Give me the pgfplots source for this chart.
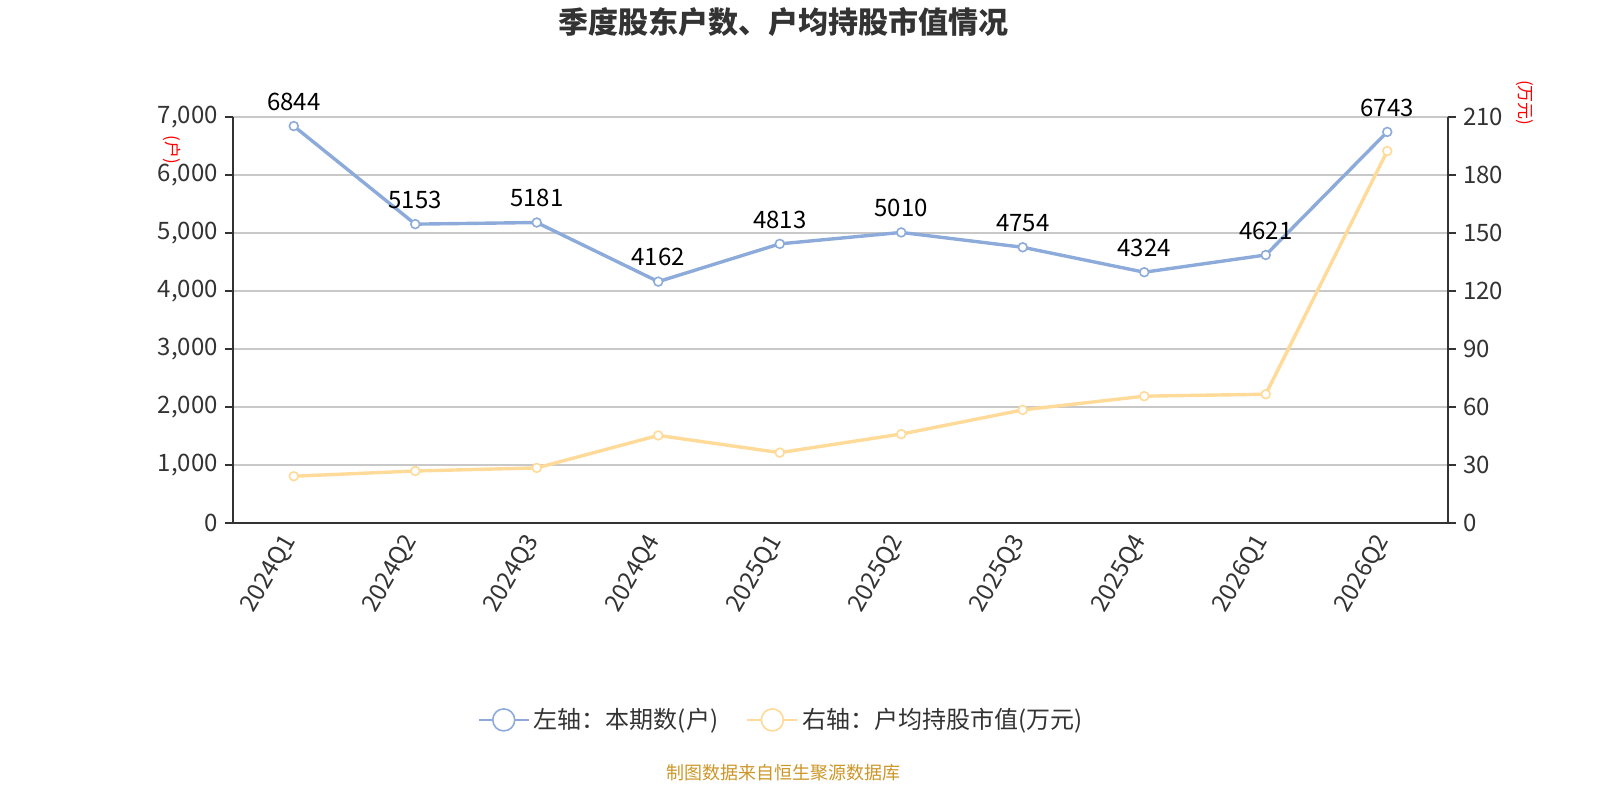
\documentclass[border=0pt]{standalone}
\usepackage{pgfplots}
\pgfplotsset{compat=1.18}
\usepackage{fontspec}
\setmainfont{Noto Sans CJK SC}
\definecolor{blueL}{RGB}{141,171,218}
\definecolor{yellowL}{RGB}{255,218,152}
\definecolor{axisC}{RGB}{51,51,51}
\definecolor{gridC}{RGB}{200,200,200}
\definecolor{footC}{RGB}{204,150,40}
\pgfplotsset{
  common/.style={
    scale only axis, width=607.5pt, height=203pt,
    at={(116.5pt,138.5pt)}, anchor=south west,
    xmin=-0.5, xmax=9.5,
    tick align=outside, major tick length=4pt,
    tick style={axisC, line width=0.8pt},
    axis line style={axisC, line width=0.8pt},
    tick label style={font=\fontsize{12}{14}\selectfont, text=axisC},
    /pgf/number format/assume math mode=true,
    /pgf/number format/1000 sep={,},
    clip=false,
  }
}
\begin{document}
\begin{tikzpicture}
\useasboundingbox (0,0) rectangle (800pt,400pt);
\begin{axis}[common,
  axis y line*=left, axis x line*=bottom,
  ymin=0, ymax=7000, ytick={0,1000,...,7000},
  ymajorgrids, grid style={gridC, line width=0.6pt},
  xtick={0,...,9},
  xticklabels={2024Q1,2024Q2,2024Q3,2024Q4,2025Q1,2025Q2,2025Q3,2025Q4,2026Q1,2026Q2},
  x tick style={draw=none},
  xticklabel style={rotate=60, anchor=east},
  extra x ticks={-0.5,0.5,...,9.5},
  extra x tick labels={},
  extra x tick style={tick style={axisC, line width=0.8pt, draw=axisC}, major tick length=6pt, grid=none},
  legend style={at={(0.452,-0.485)}, anchor=center, draw=none, legend columns=2,
    font=\fontsize{12}{14}\selectfont, text=axisC,
    /tikz/every even column/.append style={column sep=12pt}},
  legend cell align=left,
]
\addlegendimage{legend image code/.code={\draw[blueL, line width=1.2pt] (0pt,0pt) -- (25pt,0pt); \draw[blueL, fill=white, line width=0.8pt] (12.5pt,0pt) circle (5.5pt);}}
\addlegendentry{左轴：本期数(户)}
\addlegendimage{legend image code/.code={\draw[yellowL, line width=1.2pt] (0pt,0pt) -- (25pt,0pt); \draw[yellowL, fill=white, line width=0.8pt] (12.5pt,0pt) circle (5.5pt);}}
\addlegendentry{右轴：户均持股市值(万元)}
\addplot[forget plot, blueL, line width=1.7pt, mark=*, mark size=2.2pt,
  mark options={fill=white, draw=blueL, line width=0.8pt},
  nodes near coords, every node near coord/.append style={font=\fontsize{12}{14}\selectfont, text=black, anchor=south, yshift=4pt},
  nodes near coords={\pgfmathprintnumber[1000 sep={}]{\pgfplotspointmeta}}]
coordinates {(0,6844)(1,5153)(2,5181)(3,4162)(4,4813)(5,5010)(6,4754)(7,4324)(8,4621)(9,6743)};
\end{axis}
\begin{axis}[common,
  axis y line*=right, axis x line=none,
  ymin=0, ymax=210, ytick={0,30,...,210},
]
\addplot[yellowL, line width=1.7pt, mark=*, mark size=2.2pt,
  mark options={fill=white, draw=yellowL, line width=0.8pt}]
coordinates {(0,24.2)(1,26.9)(2,28.5)(3,45.3)(4,36.4)(5,46.0)(6,58.5)(7,65.6)(8,66.6)(9,192.4)};
\end{axis}
\node[font=\bfseries\fontsize{15}{17}\selectfont, text=axisC] at (391.5pt,389pt) {季度股东户数、户均持股市值情况};
\node[font=\fontsize{8.5}{10}\selectfont, text=red, rotate=-90] at (86pt,325pt) {(户)};
\node[font=\fontsize{8.5}{10}\selectfont, text=red, rotate=-90] at (762.5pt,348.5pt) {(万元)};
\node[font=\fontsize{9}{11}\selectfont, text=footC] at (391.5pt,13.5pt) {制图数据来自恒生聚源数据库};
\end{tikzpicture}
\end{document}
